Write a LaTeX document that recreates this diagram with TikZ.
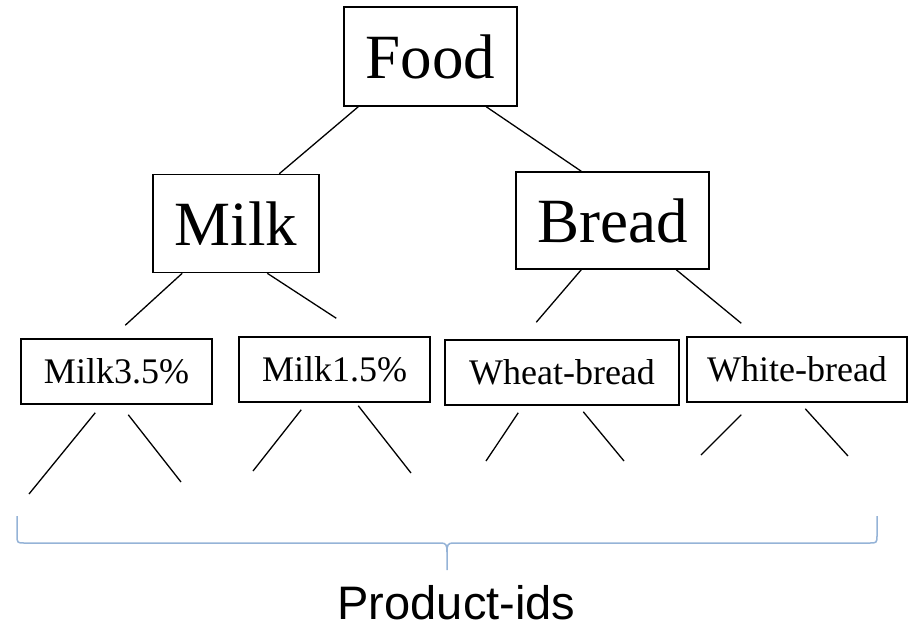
\documentclass[tikz,border=0pt]{standalone}
\usepackage{fontspec}
\setmainfont{Liberation Serif}
\newfontfamily\sansf{Liberation Sans}
\usetikzlibrary{calc}
\definecolor{bracecol}{RGB}{149,179,215}
\begin{document}
\begin{tikzpicture}[x=1pt,y=-1pt,
  box/.style={draw,line width=1.5pt,rectangle,inner sep=0pt,align=center},
  big/.style={font=\fontsize{63}{63}\selectfont},
  small/.style={font=\fontsize{36}{36}\selectfont,minimum height=65pt},
  link/.style={line width=1.3pt},
  bracestyle/.style={draw=bracecol,line width=1.5pt}]
\useasboundingbox (0,0) rectangle (910,630);
% level 1
\node[box,big,minimum width=173pt,minimum height=99pt] (food) at (430.5,56.5) {Food};
% level 2
\node[box,big,minimum width=166pt,minimum height=98pt] (milk) at (236,223.5) {Milk};
\node[box,big,minimum width=193pt,minimum height=97pt] (bread) at (612.5,220.5) {Bread};
% level 3
\node[box,small,minimum width=191pt] (m35) at (116.5,371.5) {Milk3.5\%};
\node[box,small,minimum width=191pt] (m15) at (334.5,369.5) {Milk1.5\%};
\node[box,small,minimum width=234pt] (wheat) at (562,372.5) {Wheat-bread};
\node[box,small,minimum width=220pt] (white) at (797,369.5) {White-bread};
% connectors level 1 -> 2
\draw[link] ($(food.south west)+(15,0)$) -- ($(milk.north west)+(127,0)$);
\draw[link] ($(food.south west)+(143,0)$) -- ($(bread.north west)+(66,0)$);
% connectors level 2 -> 3
\draw[link] ($(milk.south west)+(30,0)$) -- ($(m35.north west)+(105,-13)$);
\draw[link] ($(milk.south west)+(115,0)$) -- ($(m15.north west)+(98,-18)$);
\draw[link] ($(bread.south west)+(66,0)$) -- ($(wheat.north west)+(92,-17)$);
\draw[link] ($(bread.south west)+(161,0)$) -- ($(white.north west)+(55,-13)$);
% leaf ends
\coordinate (l1) at (29,494);
\coordinate (l2) at (181,482);
\coordinate (l3) at (253,471);
\coordinate (l4) at (411,473);
\coordinate (l5) at (486,461);
\coordinate (l6) at (624,461);
\coordinate (l7) at (701,455);
\coordinate (l8) at (848,456);
\draw[link] ($(m35.south west)+(75,8)$) -- (l1);
\draw[link] ($(m35.south west)+(108,10)$) -- (l2);
\draw[link] ($(m15.south west)+(63,7)$) -- (l3);
\draw[link] ($(m15.south west)+(120,3)$) -- (l4);
\draw[link] ($(wheat.south west)+(74,7)$) -- (l5);
\draw[link] ($(wheat.south west)+(139,6)$) -- (l6);
\draw[link] ($(white.south west)+(55,12)$) -- (l7);
\draw[link] ($(white.south west)+(119,6)$) -- (l8);
% brace
\coordinate (bl) at (17,516);
\coordinate (br) at (877,516);
\coordinate (tip) at (447,570);
\path[bracestyle] (bl) -- (17,536) .. controls (17,543) and (18,543) .. (24,543) -- (441,543) .. controls (446,543) and (447,545) .. (447,552) -- (tip);
\path[bracestyle] (br) -- (877,536) .. controls (877,543) and (876,543) .. (870,543) -- (453,543) .. controls (448,543) and (447,545) .. (447,552);
\node[font=\sansf\fontsize{47}{47}\selectfont,anchor=base,inner sep=0pt] (pid) at (456.5,619) {Product-ids};
\end{tikzpicture}
\end{document}
